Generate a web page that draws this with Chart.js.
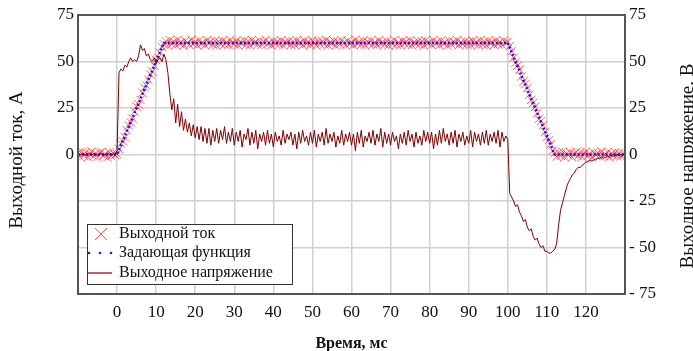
<!DOCTYPE html>
<html>
<head>
<meta charset="utf-8">
<script src="https://cdn.jsdelivr.net/npm/chart.js@4"></script>
<style>
  body { margin: 0; background: #fff; }
  #wrap { width: 693px; height: 351px; }
</style>
</head>
<body>
<div id="wrap"><canvas id="chart"></canvas></div>
<script>
// sampling of the measured series (ms)
const currentStart = -10, currentStep = 0.5;
const voltageStart = -10, voltageStep = 0.5;

// output current, A (every 0.5 ms from -10 to 130)
const currentA = [
  0.8, -1.2, 1.5, -0.6, 1.1, -1.4, 0.4, 1.6, -0.9, 0.7,
  -1.3, 0.9, 1.4, -0.5, 0.3, -1.6, 1.2, -0.8, 1.0, -0.3,
  0.2, 2.9, 5.8, 7.1, 9.2, 13.0, 15.6, 17.2, 19.4, 23.1,
  25.8, 27.0, 29.3, 33.2, 35.9, 37.1, 40.2, 43.0, 44.6, 47.9,
  50.8, 52.1, 54.7, 57.8, 59.2, 60.9, 58.6, 61.4, 59.3, 60.8,
  58.9, 61.6, 59.7, 60.4, 58.5, 61.2, 60.1, 59.0, 61.7, 59.4,
  60.6, 58.8, 61.3, 59.6, 60.2, 58.7, 61.5, 59.9, 60.7, 59.1,
  61.0, 58.6, 60.8, 59.5, 61.4, 59.2, 60.3, 58.9, 61.6, 60.0,
  59.3, 61.1, 58.8, 60.6, 59.7, 61.3, 59.0, 60.9, 58.7, 61.5,
  59.8, 60.4, 59.1, 61.2, 58.9, 60.5, 61.6, 59.4, 60.1, 58.8,
  61.0, 59.6, 60.7, 59.2, 61.4, 58.6, 60.3, 59.9, 61.1, 59.0,
  60.8, 58.9, 61.5, 59.7, 60.2, 58.8, 61.3, 59.5, 60.6, 59.1,
  61.2, 60.0, 58.7, 61.0, 59.4, 60.9, 59.2, 61.6, 58.9, 60.4,
  59.8, 61.1, 58.6, 60.7, 59.3, 61.4, 60.0, 58.8, 61.2, 59.5,
  60.3, 58.9, 61.7, 59.6, 60.5, 59.0, 61.1, 58.7, 60.8, 59.9,
  61.3, 59.2, 60.4, 58.8, 61.5, 59.7, 60.1, 59.3, 61.0, 58.6,
  60.6, 59.4, 61.6, 59.0, 60.2, 58.9, 61.2, 59.8, 60.7, 59.1,
  61.4, 58.8, 60.3, 59.6, 61.0, 59.2, 60.9, 58.7, 61.3, 59.9,
  60.1, 59.0, 61.5, 59.4, 60.6, 58.9, 61.1, 59.7, 60.4, 58.6,
  61.2, 59.3, 60.8, 59.8, 61.6, 58.8, 60.2, 59.5, 61.0, 59.1,
  60.7, 58.9, 61.3, 59.6, 60.4, 59.0, 61.5, 59.2, 60.9, 58.7,
  61.1, 59.8, 60.3, 58.8, 61.4, 59.4, 60.6, 59.1, 61.2, 60.2,
  60.5, 58.2, 55.6, 52.1, 49.4, 47.8, 45.7, 42.0, 39.3, 37.9,
  35.8, 32.1, 29.4, 27.8, 25.6, 22.0, 19.2, 17.9, 15.7, 12.1,
  9.4, 7.8, 5.6, 2.1, 0.8, -1.1, 1.3, -0.7, 1.5, -1.3,
  0.6, -0.4, 1.2, -1.5, 0.3, 1.4, -0.8, 1.0, -1.2, 0.5,
  1.6, -0.6, 0.4, -1.4, 1.1, -0.2, 0.9, -1.0, 1.5, -0.7,
  0.2, 1.3, -1.5, 0.6, -0.3, 1.2, -0.9, 0.8, -1.1, 0.4,
  0.5
];

// output voltage, V (every 0.5 ms from -10 to 130)
const voltageV = [
  0.3, -0.2, 0.4, 0, -0.3, 0.2, 0.5, -0.1, 0.2, 0.3,
  -0.2, 0.1, 0.4, -0.3, 0.2, 0, 0.3, -0.2, 0.1, 0.2,
  2, 44, 46, 45, 48, 47, 50, 52, 50, 51,
  50, 53, 59, 56, 57, 53, 54, 51, 50, 52,
  49, 51, 52, 50, 54, 51, 44, 33, 24, 30,
  17, 27, 15, 23, 13, 19, 12, 17, 10, 16,
  9, 15, 8, 15, 7, 14, 6, 14, 5, 13,
  7, 14, 6, 13, 8, 15, 6, 12, 7, 14,
  5, 12, 7, 13, 4, 11, 8, 14, 5, 12,
  6, 13, 3, 11, 7, 12, 5, 13, 6, 11,
  4, 12, 7, 10, 5, 13, 6, 11, 8, 12,
  5, 11, 3, 12, 6, 13, 7, 10, 5, 12,
  6, 13, 4, 11, 7, 12, 5, 14, 6, 11,
  7, 12, 4, 10, 6, 13, 5, 11, 7, 12,
  5, 11, 2, 12, 6, 13, 4, 10, 7, 12,
  6, 13, 5, 11, 7, 14, 4, 12, 6, 11,
  5, 12, 7, 10, 3, 11, 6, 12, 5, 13,
  7, 11, 4, 12, 6, 10, 5, 13, 7, 12,
  6, 12, 3, 11, 5, 13, 6, 14, 7, 11,
  5, 12, 6, 13, 4, 11, 7, 12, 5, 10,
  6, 13, 4, 12, 7, 11, 5, 12, 6, 13,
  5, 11, 7, 12, 6, 13, 4, 12, 7, 10,
  8, -21, -23, -25, -28, -27, -31, -33, -36, -35,
  -39, -41, -40, -44, -46, -45, -48, -50, -49, -52,
  -52, -53, -53, -52, -51, -48, -38, -30, -26, -22,
  -18, -15, -13, -11, -10, -8, -7, -7, -6, -5,
  -4, -4, -3, -3.5, -3, -2.5, -2, -2, -1.5, -2,
  -1.5, -1, -1, -0.5, -1, -0.5, 0, -0.5, 0, 0,
  0
];

// set-point function, A
const setTime = [-10, 0, 12, 100, 112, 130];
const setValue = [0, 0, 60, 60, 0, 0];

const legendLabels = ['Выходной ток', 'Задающая функция', 'Выходное напряжение'];
const leftTitle = 'Выходной ток, А';
const rightTitle = 'Выходное напряжение, В';

const serif = 'Liberation Serif';

function toPoints(start, step, values) {
    return values.map((v, i) => ({ x: start + i * step, y: v }));
}

function drawVertical(ctx, text, x, y) {
    ctx.save();
    ctx.translate(x, y);
    ctx.rotate(-Math.PI / 2);
    ctx.fillStyle = '#111';
    ctx.font = '19px "' + serif + '"';
    ctx.textAlign = 'center';
    ctx.textBaseline = 'middle';
    ctx.fillText(text, 0, 0);
    ctx.restore();
}

// plot frame, axis titles and legend box inside the plot
const framePlugin = {
    id: 'frame',
    afterDraw(chart) {
        const ctx = chart.ctx;
        const a = chart.chartArea;
        ctx.save();
        ctx.strokeStyle = '#555';
        ctx.lineWidth = 2;
        ctx.strokeRect(a.left, a.top, a.right - a.left, a.bottom - a.top);

        drawVertical(ctx, leftTitle, 17, 160);
        drawVertical(ctx, rightTitle, 688, 166);

        // legend
        const lx = 87, ly = 224, lw = 205, lh = 60;
        ctx.fillStyle = '#fff';
        ctx.fillRect(lx, ly, lw, lh);
        ctx.strokeStyle = '#333';
        ctx.lineWidth = 1;
        ctx.strokeRect(lx + 0.5, ly + 0.5, lw, lh);

        const rows = [234, 253, 273];
        // red cross
        ctx.strokeStyle = 'rgba(255,40,40,0.8)';
        ctx.beginPath();
        ctx.moveTo(95, rows[0] - 6); ctx.lineTo(107, rows[0] + 6);
        ctx.moveTo(107, rows[0] - 6); ctx.lineTo(95, rows[0] + 6);
        ctx.stroke();
        // blue dots
        ctx.fillStyle = '#1515ff';
        [89, 100, 111].forEach(x => {
            ctx.beginPath();
            ctx.arc(x, rows[1], 1.3, 0, Math.PI * 2);
            ctx.fill();
        });
        // dark red line
        ctx.strokeStyle = '#a03030';
        ctx.lineWidth = 1.5;
        ctx.beginPath();
        ctx.moveTo(88, rows[2]); ctx.lineTo(112, rows[2]);
        ctx.stroke();

        ctx.fillStyle = '#111';
        ctx.font = '16px "' + serif + '"';
        ctx.textBaseline = 'middle';
        legendLabels.forEach((t, i) => ctx.fillText(t, 119, rows[i]));
        ctx.restore();
    }
};

const ctx = document.getElementById('chart').getContext('2d');
new Chart(ctx, {
    type: 'line',
    data: {
        datasets: [
            {
                label: legendLabels[1],
                data: setTime.map((t, i) => ({ x: t, y: setValue[i] })),
                yAxisID: 'y',
                borderColor: '#1010ff',
                borderWidth: 2.5,
                borderDash: [2, 2],
                pointRadius: 0,
                order: 1
            },
            {
                label: legendLabels[2],
                data: toPoints(voltageStart, voltageStep, voltageV),
                yAxisID: 'y2',
                borderColor: '#7a0000',
                borderWidth: 1,
                pointRadius: 0,
                order: 2
            },
            {
                label: legendLabels[0],
                data: toPoints(currentStart, currentStep, currentA),
                yAxisID: 'y',
                showLine: false,
                pointStyle: 'crossRot',
                pointRadius: 6,
                pointBorderWidth: 1,
                pointBorderColor: 'rgba(255,20,20,0.65)',
                order: 3
            }
        ]
    },
    options: {
        responsive: true,
        maintainAspectRatio: false,
        animation: false,
        layout: { padding: { top: 15, left: 0, right: 0, bottom: 0 } },
        plugins: {
            legend: { display: false },
            tooltip: { enabled: false }
        },
        scales: {
            x: {
                type: 'linear',
                min: -10,
                max: 130,
                afterFit: s => { s.height = 57; },
                grid: { color: '#d0d0d0', lineWidth: 1.5, drawTicks: false },
                border: { display: false },
                ticks: {
                    stepSize: 10,
                    padding: 8,
                    color: '#111',
                    font: { family: serif, size: 17 },
                    maxRotation: 0,
                    callback: v => (v < 0 || v > 120) ? '' : v
                },
                title: {
                    display: true,
                    text: 'Время, мс',
                    color: '#111',
                    font: { family: serif, size: 16, weight: 'bold' },
                    padding: { top: 0, bottom: -2 }
                }
            },
            y: {
                position: 'left',
                min: -75,
                max: 75,
                afterFit: s => { s.width = 78; },
                grid: { color: '#d0d0d0', lineWidth: 1.5, drawTicks: false },
                border: { display: false },
                ticks: {
                    stepSize: 25,
                    padding: 4,
                    color: '#111',
                    font: { family: serif, size: 17 },
                    callback: v => v < 0 ? '' : v
                }
            },
            y2: {
                position: 'right',
                min: -75,
                max: 75,
                afterFit: s => { s.width = 68; },
                grid: { display: false, drawTicks: false },
                border: { display: false },
                ticks: {
                    stepSize: 25,
                    padding: 4,
                    color: '#111',
                    font: { family: serif, size: 17 },
                    callback: v => v < 0 ? '- ' + (-v) : v
                }
            }
        }
    },
    plugins: [framePlugin]
});
</script>
</body>
</html>
